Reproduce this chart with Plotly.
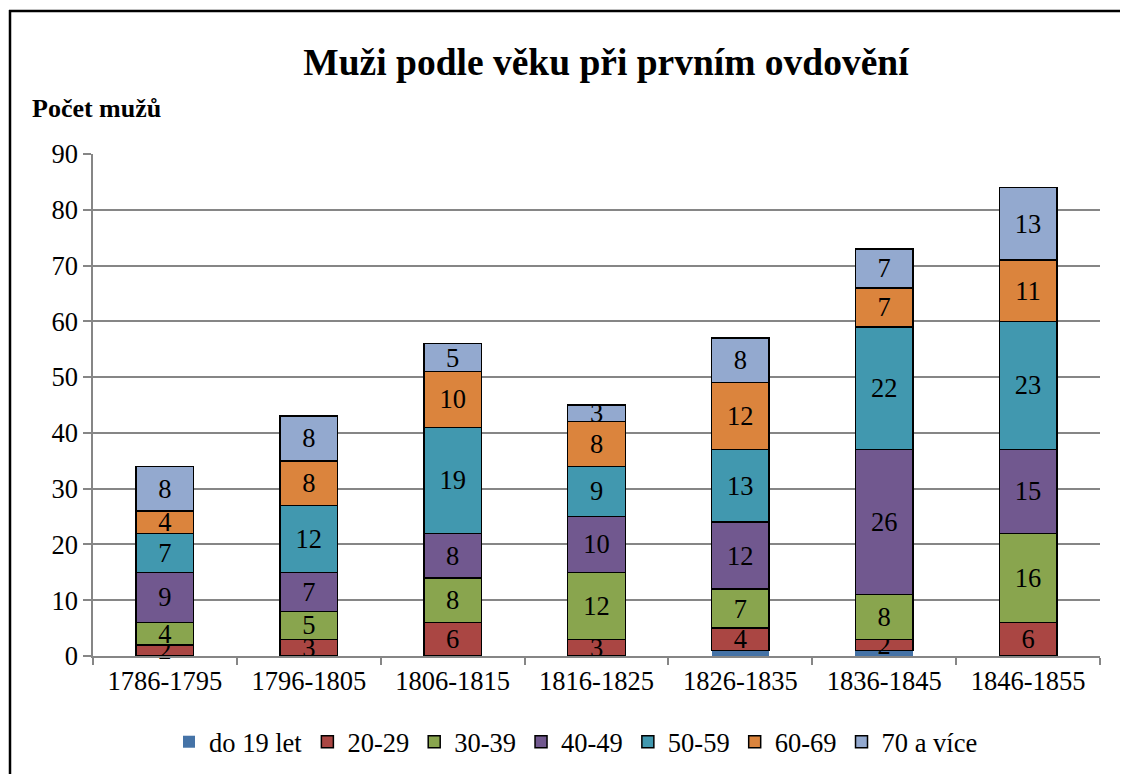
import plotly.graph_objects as go

categories = ["1786-1795", "1796-1805", "1806-1815", "1816-1825", "1826-1835", "1836-1845", "1846-1855"]
series_names = ["do 19 let", "20-29", "30-39", "40-49", "50-59", "60-69", "70 a více"]
do19 = [0, 0, 0, 0, 1, 1, 0]
v20_29 = [2, 3, 6, 3, 4, 2, 6]
v30_39 = [4, 5, 8, 12, 7, 8, 16]
v40_49 = [9, 7, 8, 10, 12, 26, 15]
v50_59 = [7, 12, 19, 9, 13, 22, 23]
v60_69 = [4, 8, 10, 8, 12, 7, 11]
v70 = [8, 8, 5, 3, 8, 7, 13]
y_ticks = [0, 10, 20, 30, 40, 50, 60, 70, 80, 90]

values = [do19, v20_29, v30_39, v40_49, v50_59, v60_69, v70]
colors = ["#4573A7", "#AA4643", "#89A54E", "#71588F", "#4198AF", "#DB843D", "#93A9CF"]
show_labels = [False, True, True, True, True, True, True]

FONT = "Liberation Serif, Times New Roman, serif"
FS = 26.5

# page offset of the plot div (body margin)
OFF = 8
W, H = 1128, 774
# target plot area in page pixels
PX0, PX1, PY0, PY1 = 93, 1100, 154, 656


def px(x):
    return (x - PX0) / (PX1 - PX0)


def py(y):
    return (PY1 - y) / (PY1 - PY0)


fig = go.Figure()
for name, vals, col, lab in zip(series_names, values, colors, show_labels):
    fig.add_trace(go.Bar(
        name=name, x=categories, y=vals,
        marker=dict(color=col, line=dict(color="black" if lab else col, width=1.5 if lab else 0)),
        text=[str(v) for v in vals] if lab else None,
        textposition="inside" if lab else "none",
        insidetextanchor="middle",
        textangle=0,
        constraintext="none",
        textfont=dict(family=FONT, size=FS, color="black"),
        cliponaxis=False,
    ))

fig.update_layout(
    barmode="stack",
    bargap=0.6,
    width=W, height=H,
    paper_bgcolor="white", plot_bgcolor="white",
    margin=dict(l=PX0 - OFF, r=W + OFF - PX1, t=PY0 - OFF, b=H + OFF - PY1),
    font=dict(family=FONT, size=FS, color="black"),
    uniformtext=dict(minsize=FS, mode="show"),
    title=dict(text="<b>Muži podle věku při prvním ovdovění</b>", x=(606 - OFF) / W, xanchor="center",
               xref="container", y=1 - (62 - OFF) / H, yanchor="middle", yref="container",
               font=dict(family=FONT, size=37.5, color="black")),
    legend=dict(orientation="h", x=px(576), xanchor="center", y=py(742), yanchor="middle",
                font=dict(family=FONT, size=FS, color="black"), traceorder="normal",
                itemwidth=30, tracegroupgap=0),
    showlegend=True,
)
fig.update_xaxes(
    type="category", showline=True, linecolor="#868686", linewidth=1.5,
    ticks="outside", tickson="boundaries", ticklen=7, tickcolor="#868686", tickwidth=1.5,
    tickfont=dict(family=FONT, size=FS, color="black"), showgrid=False,
)
fig.update_yaxes(
    range=[0, 90], tickvals=y_ticks, showline=True, linecolor="#868686", linewidth=1.5,
    ticks="outside", ticklen=8, tickcolor="#868686", tickwidth=1.5,
    showgrid=True, gridcolor="#868686", gridwidth=1.5, zeroline=False,
    tickfont=dict(family=FONT, size=FS, color="black"),
)
fig.add_annotation(text="<b>Počet mužů</b>", xref="paper", yref="paper",
                   x=px(30), y=py(108), xanchor="left", yanchor="middle",
                   showarrow=False, font=dict(family=FONT, size=26, color="black"))
# outer frame: left and top edges
fig.add_shape(type="line", xref="paper", yref="paper",
              x0=px(10), x1=px(10), y0=py(10), y1=py(800),
              line=dict(color="black", width=2.5))
fig.add_shape(type="line", xref="paper", yref="paper",
              x0=px(9), x1=px(1140), y0=py(11), y1=py(11),
              line=dict(color="black", width=2.5))

fig.write_html("out.html")
